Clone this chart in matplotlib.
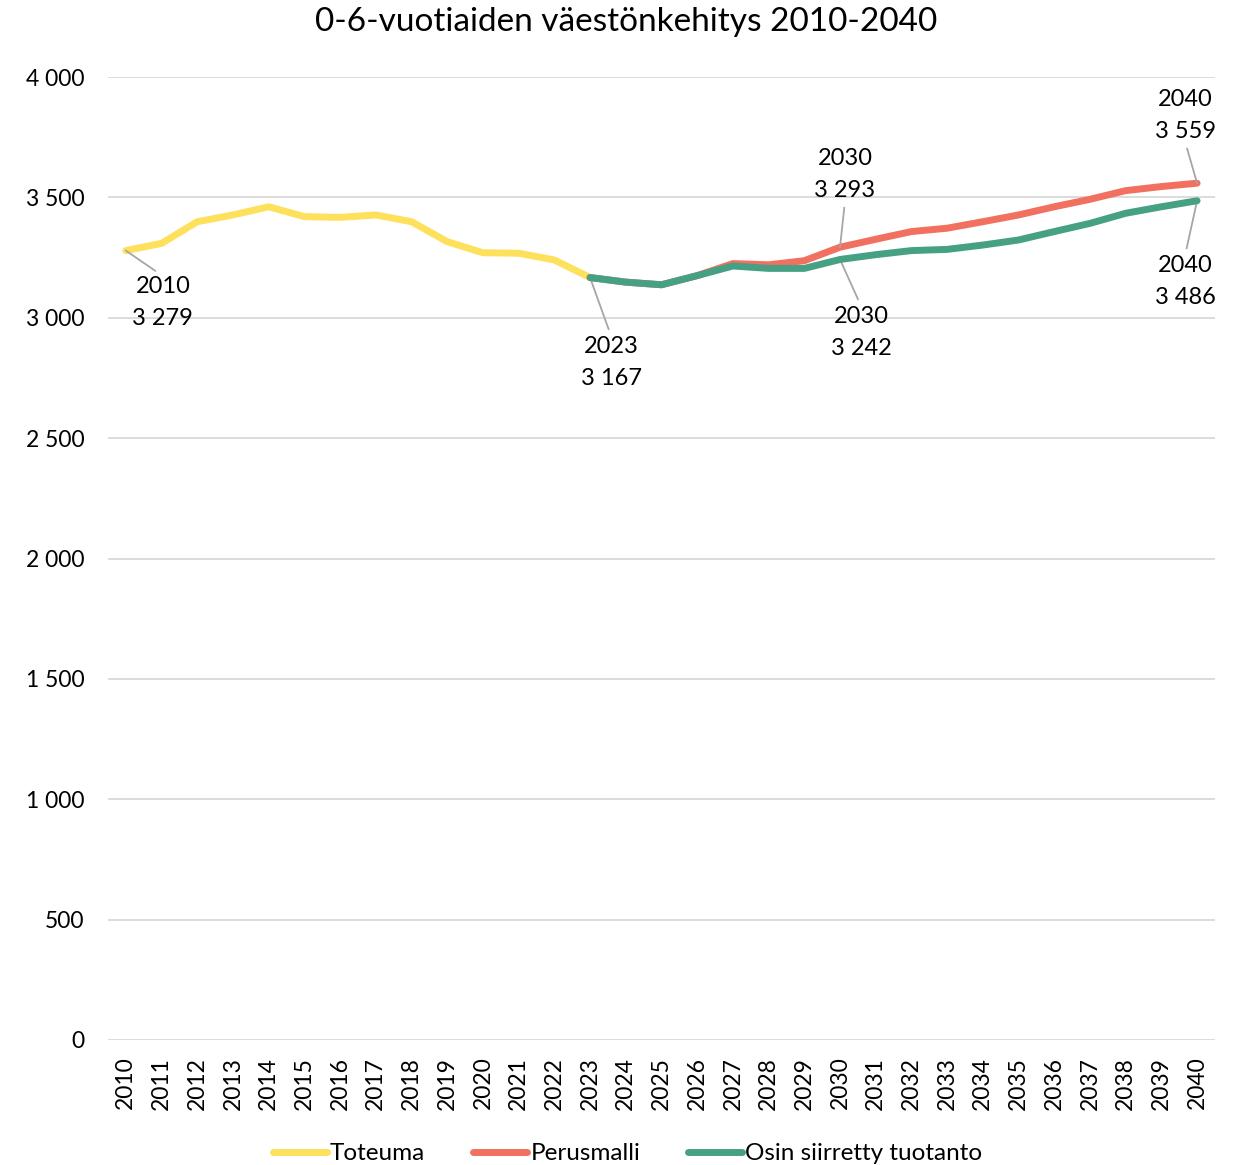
import matplotlib
matplotlib.use("Agg")
import matplotlib.pyplot as plt
from matplotlib.ticker import FuncFormatter

plt.rcParams['font.family'] = ['Lato', 'DejaVu Sans']

years = list(range(2010, 2041))
toteuma = [3279, 3309, 3399, 3427, 3461, 3420, 3417, 3427, 3399, 3316,
           3270, 3268, 3240, 3167]
perusmalli = [3167, 3148, 3137, 3175, 3225, 3220, 3237, 3293, 3326, 3358,
              3372, 3399, 3427, 3461, 3492, 3528, 3545, 3559]
osin = [3167, 3148, 3137, 3175, 3215, 3205, 3205, 3242, 3262, 3279,
        3284, 3302, 3323, 3358, 3392, 3434, 3461, 3486]
title = "0-6-vuotiaiden väestönkehitys 2010-2040"

c_yellow = '#fde05b'
c_red = '#f1705f'
c_green = '#46a083'

fig = plt.figure(figsize=(12.4, 11.65), dpi=100)
ax = fig.add_axes([0.0871, 0.1073, 0.8927, 0.8266])

x_tot = list(range(len(toteuma)))
x_fc = list(range(len(toteuma) - 1, len(years)))
ax.plot(x_tot, toteuma, color=c_yellow, lw=5, solid_capstyle='round', label='Toteuma', zorder=3)
ax.plot(x_fc, perusmalli, color=c_red, lw=5, solid_capstyle='round', label='Perusmalli', zorder=3)
ax.plot(x_fc, osin, color=c_green, lw=5, solid_capstyle='round', label='Osin siirretty tuotanto', zorder=4)

ax.set_ylim(0, 4000)
ax.set_xlim(-0.5, len(years) - 0.5)
ax.set_yticks(range(0, 4001, 500))
ax.yaxis.set_major_formatter(FuncFormatter(lambda v, p: f"{int(v):,}".replace(",", " ")))
ax.set_xticks(range(len(years)))
ax.set_xticklabels([str(y) for y in years], rotation=90)
ax.tick_params(axis='both', length=0, labelsize=16.5, colors='#000000')
ax.tick_params(axis='x', pad=12)
ax.tick_params(axis='y', pad=17)
ax.grid(axis='y', color='#d9d9d9', lw=1.3)
ax.set_axisbelow(True)
for s in ax.spines.values():
    s.set_visible(False)


def fmt(v):
    return f"{v:,}".replace(",", " ")


def label(ix, val, dx, dy, above):
    ax.annotate(f"{years[ix]}\n{fmt(val)}", xy=(ix, val), xytext=(dx, dy),
                textcoords='offset pixels', ha='center', va='center',
                fontsize=17, linespacing=1.65,
                arrowprops=dict(arrowstyle='-', color='#a6a6a6', lw=1.3,
                                relpos=(0.5, 0.0 if above else 1.0),
                                shrinkA=3, shrinkB=0))


i23 = len(toteuma) - 1
i30 = years.index(2030)
label(0, toteuma[0], 37, -52, False)
label(i23, toteuma[-1], 21, -85, False)
label(i30, perusmalli[i30 - i23], 5, 73, True)
label(i30, osin[i30 - i23], 21, -73, False)
label(len(years) - 1, perusmalli[-1], -12, 68, True)
label(len(years) - 1, osin[-1], -12, -81, False)

fig.suptitle(title, fontsize=24, x=0.505, y=0.981, va='center')
fig.legend(loc='center', bbox_to_anchor=(0.506, 0.0095), ncol=3, frameon=False,
           fontsize=17.5, handlelength=2.25, handletextpad=0.12, columnspacing=1.95)

fig.savefig('out.png', dpi=100)
